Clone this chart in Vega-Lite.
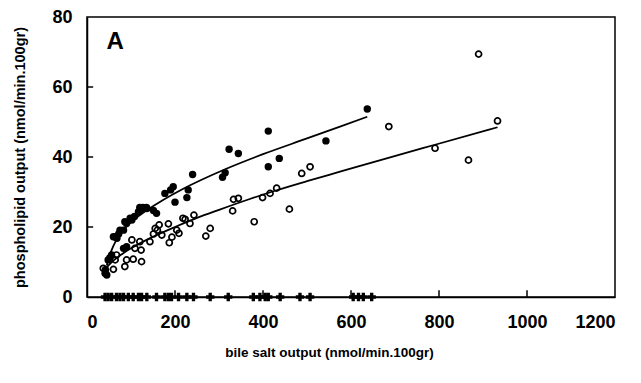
{
  "$schema": "https://vega.github.io/schema/vega-lite/v6.json",
  "width": 528,
  "height": 280,
  "autosize": {"type": "none"},
  "padding": {"left": 87, "top": 17, "right": 26, "bottom": 86},
  "background": "white",
  "config": {
    "view": {"stroke": "black", "strokeWidth": 1.5},
    "font": "Liberation Sans",
    "axis": {
      "domainColor": "black", "domainWidth": 1.5, "ticks": false, "zindex": 1, "grid": false,
      "labelFont": "Liberation Sans", "labelFontWeight": "bold",
      "labelFontSize": 18, "labelColor": "black", "titleFont": "Liberation Sans", "format": "d",
      "titleFontWeight": "bold", "titleColor": "black"
    }
  },
  "datasets": {
    "pts": [
      {"bs": 41, "pl": 6.8, "g": "filled"}, {"bs": 45, "pl": 6.3, "g": "filled"}, {"bs": 42, "pl": 7.8, "g": "filled"},
      {"bs": 48, "pl": 10.6, "g": "filled"}, {"bs": 52, "pl": 11.2, "g": "filled"}, {"bs": 56, "pl": 12, "g": "filled"},
      {"bs": 60, "pl": 17.2, "g": "filled"}, {"bs": 64, "pl": 17.2, "g": "filled"}, {"bs": 68, "pl": 16.8, "g": "filled"},
      {"bs": 72, "pl": 18, "g": "filled"}, {"bs": 75, "pl": 19.1, "g": "filled"}, {"bs": 83, "pl": 19.1, "g": "filled"},
      {"bs": 83, "pl": 13.9, "g": "filled"}, {"bs": 90, "pl": 14.4, "g": "filled"}, {"bs": 90, "pl": 21, "g": "filled"},
      {"bs": 86, "pl": 21.5, "g": "filled"}, {"bs": 98, "pl": 22.5, "g": "filled"}, {"bs": 102, "pl": 22, "g": "filled"},
      {"bs": 108, "pl": 23, "g": "filled"}, {"bs": 117, "pl": 24.4, "g": "filled"}, {"bs": 120, "pl": 25.6, "g": "filled"},
      {"bs": 127, "pl": 25.6, "g": "filled"}, {"bs": 135, "pl": 25.6, "g": "filled"}, {"bs": 124, "pl": 25.1, "g": "filled"},
      {"bs": 136, "pl": 25.3, "g": "filled"}, {"bs": 151, "pl": 24.7, "g": "filled"}, {"bs": 158, "pl": 23.9, "g": "filled"},
      {"bs": 177, "pl": 29.6, "g": "filled"}, {"bs": 190, "pl": 30.6, "g": "filled"}, {"bs": 196, "pl": 31.5, "g": "filled"},
      {"bs": 200, "pl": 27.1, "g": "filled"}, {"bs": 227, "pl": 28.4, "g": "filled"}, {"bs": 230, "pl": 30.6, "g": "filled"},
      {"bs": 240, "pl": 35.0, "g": "filled"}, {"bs": 308, "pl": 34.2, "g": "filled"}, {"bs": 314, "pl": 35.5, "g": "filled"},
      {"bs": 323, "pl": 42.2, "g": "filled"}, {"bs": 344, "pl": 41.0, "g": "filled"}, {"bs": 412, "pl": 47.4, "g": "filled"},
      {"bs": 412, "pl": 37.2, "g": "filled"}, {"bs": 437, "pl": 39.6, "g": "filled"}, {"bs": 543, "pl": 44.6, "g": "filled"},
      {"bs": 637, "pl": 53.7, "g": "filled"},
      {"bs": 37, "pl": 8.2, "g": "open"}, {"bs": 60, "pl": 7.9, "g": "open"}, {"bs": 64, "pl": 10.6, "g": "open"},
      {"bs": 67, "pl": 12, "g": "open"}, {"bs": 86, "pl": 8.7, "g": "open"}, {"bs": 90, "pl": 10.6, "g": "open"},
      {"bs": 105, "pl": 10.8, "g": "open"}, {"bs": 109, "pl": 13.9, "g": "open"}, {"bs": 102, "pl": 16.3, "g": "open"},
      {"bs": 124, "pl": 10.1, "g": "open"}, {"bs": 123, "pl": 13.4, "g": "open"}, {"bs": 120, "pl": 15.8, "g": "open"},
      {"bs": 143, "pl": 15.8, "g": "open"}, {"bs": 151, "pl": 18, "g": "open"}, {"bs": 155, "pl": 19.6, "g": "open"},
      {"bs": 160, "pl": 19.1, "g": "open"}, {"bs": 164, "pl": 20.6, "g": "open"}, {"bs": 170, "pl": 17.7, "g": "open"},
      {"bs": 185, "pl": 20.9, "g": "open"}, {"bs": 187, "pl": 15.5, "g": "open"}, {"bs": 193, "pl": 17.1, "g": "open"},
      {"bs": 204, "pl": 19.1, "g": "open"}, {"bs": 209, "pl": 18.2, "g": "open"}, {"bs": 218, "pl": 22.5, "g": "open"},
      {"bs": 223, "pl": 22.2, "g": "open"}, {"bs": 234, "pl": 21, "g": "open"}, {"bs": 243, "pl": 23.4, "g": "open"},
      {"bs": 270, "pl": 17.4, "g": "open"}, {"bs": 280, "pl": 19.6, "g": "open"}, {"bs": 331, "pl": 24.6, "g": "open"},
      {"bs": 333, "pl": 27.9, "g": "open"}, {"bs": 344, "pl": 28.2, "g": "open"}, {"bs": 380, "pl": 21.5, "g": "open"},
      {"bs": 399, "pl": 28.4, "g": "open"}, {"bs": 416, "pl": 29.6, "g": "open"}, {"bs": 431, "pl": 31.1, "g": "open"},
      {"bs": 460, "pl": 25.1, "g": "open"}, {"bs": 488, "pl": 35.3, "g": "open"}, {"bs": 507, "pl": 37.2, "g": "open"},
      {"bs": 686, "pl": 48.7, "g": "open"}, {"bs": 791, "pl": 42.5, "g": "open"}, {"bs": 867, "pl": 39.1, "g": "open"},
      {"bs": 890, "pl": 69.4, "g": "open"}, {"bs": 933, "pl": 50.3, "g": "open"},
      {"bs": 41, "pl": 0, "g": "zero"}, {"bs": 48, "pl": 0, "g": "zero"}, {"bs": 56, "pl": 0, "g": "zero"},
      {"bs": 67, "pl": 0, "g": "zero"}, {"bs": 75, "pl": 0, "g": "zero"}, {"bs": 83, "pl": 0, "g": "zero"},
      {"bs": 94, "pl": 0, "g": "zero"}, {"bs": 105, "pl": 0, "g": "zero"}, {"bs": 117, "pl": 0, "g": "zero"},
      {"bs": 124, "pl": 0, "g": "zero"}, {"bs": 136, "pl": 0, "g": "zero"}, {"bs": 158, "pl": 0, "g": "zero"},
      {"bs": 177, "pl": 0, "g": "zero"}, {"bs": 185, "pl": 0, "g": "zero"}, {"bs": 192, "pl": 0, "g": "zero"},
      {"bs": 208, "pl": 0, "g": "zero"}, {"bs": 227, "pl": 0, "g": "zero"}, {"bs": 242, "pl": 0, "g": "zero"},
      {"bs": 280, "pl": 0, "g": "zero"}, {"bs": 321, "pl": 0, "g": "zero"}, {"bs": 378, "pl": 0, "g": "zero"},
      {"bs": 393, "pl": 0, "g": "zero"}, {"bs": 405, "pl": 0, "g": "zero"}, {"bs": 412, "pl": 0, "g": "zero"},
      {"bs": 439, "pl": 0, "g": "zero"}, {"bs": 484, "pl": 0, "g": "zero"}, {"bs": 507, "pl": 0, "g": "zero"},
      {"bs": 605, "pl": 0, "g": "zero"}, {"bs": 617, "pl": 0, "g": "zero"}, {"bs": 628, "pl": 0, "g": "zero"},
      {"bs": 647, "pl": 0, "g": "zero"}
    ],
    "curves": [
      {"bs": 45, "pl": 9, "c": "filled"}, {"bs": 50, "pl": 11.3, "c": "filled"}, {"bs": 60, "pl": 14.6, "c": "filled"},
      {"bs": 70, "pl": 16.9, "c": "filled"}, {"bs": 80, "pl": 18.7, "c": "filled"}, {"bs": 100, "pl": 21.4, "c": "filled"},
      {"bs": 130, "pl": 24.3, "c": "filled"}, {"bs": 170, "pl": 27.5, "c": "filled"}, {"bs": 220, "pl": 31, "c": "filled"},
      {"bs": 314, "pl": 36.5, "c": "filled"}, {"bs": 400, "pl": 40.8, "c": "filled"}, {"bs": 500, "pl": 45.3, "c": "filled"},
      {"bs": 575, "pl": 48.7, "c": "filled"}, {"bs": 637, "pl": 51.5, "c": "filled"},
      {"bs": 40, "pl": 7.8, "c": "open"}, {"bs": 50, "pl": 9.2, "c": "open"}, {"bs": 60, "pl": 10.4, "c": "open"},
      {"bs": 80, "pl": 12.3, "c": "open"}, {"bs": 100, "pl": 13.9, "c": "open"}, {"bs": 140, "pl": 16.6, "c": "open"},
      {"bs": 200, "pl": 20, "c": "open"}, {"bs": 250, "pl": 22.6, "c": "open"}, {"bs": 300, "pl": 24.9, "c": "open"},
      {"bs": 370, "pl": 28, "c": "open"}, {"bs": 431, "pl": 30.5, "c": "open"}, {"bs": 500, "pl": 33.1, "c": "open"},
      {"bs": 575, "pl": 35.8, "c": "open"}, {"bs": 689, "pl": 39.9, "c": "open"}, {"bs": 791, "pl": 43.5, "c": "open"},
      {"bs": 933, "pl": 48.5, "c": "open"}
    ],
    "xticks": [{"bs": 200}, {"bs": 400}, {"bs": 600}, {"bs": 800}, {"bs": 1000}],
    "yticks": [{"pl": 20}, {"pl": 40}, {"pl": 60}],
    "label": [{"bs": 64, "pl": 72.9, "t": "A"}]
  },
  "layer": [
    {
      "data": {"name": "curves"},
      "mark": {"type": "line", "color": "black", "strokeWidth": 1.8, "interpolate": "monotone"},
      "encoding": {
        "x": {"field": "bs", "type": "quantitative", "scale": {"domain": [0, 1200], "nice": false},
          "axis": {"values": [0, 200, 400, 600, 800, 1000, 1200], "labelPadding": 16, "title": "bile salt output (nmol/min.100gr)", "titleFontSize": 13.5, "titlePadding": 14, "titleX": 242}},
        "y": {"field": "pl", "type": "quantitative", "scale": {"domain": [0, 80], "nice": false},
          "axis": {"values": [0, 20, 40, 60, 80], "labelPadding": 15, "title": "phospholipid output (nmol/min.100gr)", "titleFontSize": 14.5, "titlePadding": 24}},
        "detail": {"field": "c"}
      }
    },
    {
      "data": {"name": "xticks"},
      "mark": {"type": "rule", "color": "black", "strokeWidth": 1.5},
      "encoding": {"x": {"field": "bs", "type": "quantitative"}, "y": {"datum": 0}, "y2": {"datum": 1.9}}
    },
    {
      "data": {"name": "yticks"},
      "mark": {"type": "rule", "color": "black", "strokeWidth": 1.5},
      "encoding": {"y": {"field": "pl", "type": "quantitative"}, "x": {"datum": 0}, "x2": {"datum": 14}}
    },
    {
      "data": {"name": "pts"},
      "transform": [{"filter": "datum.g === 'open'"}],
      "mark": {"type": "point", "shape": "circle", "filled": false, "stroke": "black", "strokeWidth": 1.7, "size": 36, "opacity": 1},
      "encoding": {"x": {"field": "bs", "type": "quantitative"}, "y": {"field": "pl", "type": "quantitative"}}
    },
    {
      "data": {"name": "pts"},
      "transform": [{"filter": "datum.g === 'filled'"}],
      "mark": {"type": "point", "shape": "circle", "filled": true, "color": "black", "size": 55, "opacity": 1},
      "encoding": {"x": {"field": "bs", "type": "quantitative"}, "y": {"field": "pl", "type": "quantitative"}}
    },
    {
      "data": {"name": "pts"},
      "transform": [{"filter": "datum.g === 'zero'"}],
      "mark": {"type": "point", "shape": "cross", "filled": true, "color": "black", "size": 70, "opacity": 1, "clip": false},
      "encoding": {"x": {"field": "bs", "type": "quantitative"}, "y": {"field": "pl", "type": "quantitative"}}
    },
    {
      "data": {"name": "label"},
      "mark": {"type": "text", "fontSize": 24, "fontWeight": "bold", "font": "Liberation Sans", "color": "black", "align": "center", "baseline": "middle"},
      "encoding": {"x": {"field": "bs", "type": "quantitative"}, "y": {"field": "pl", "type": "quantitative"}, "text": {"field": "t"}}
    }
  ]
}
